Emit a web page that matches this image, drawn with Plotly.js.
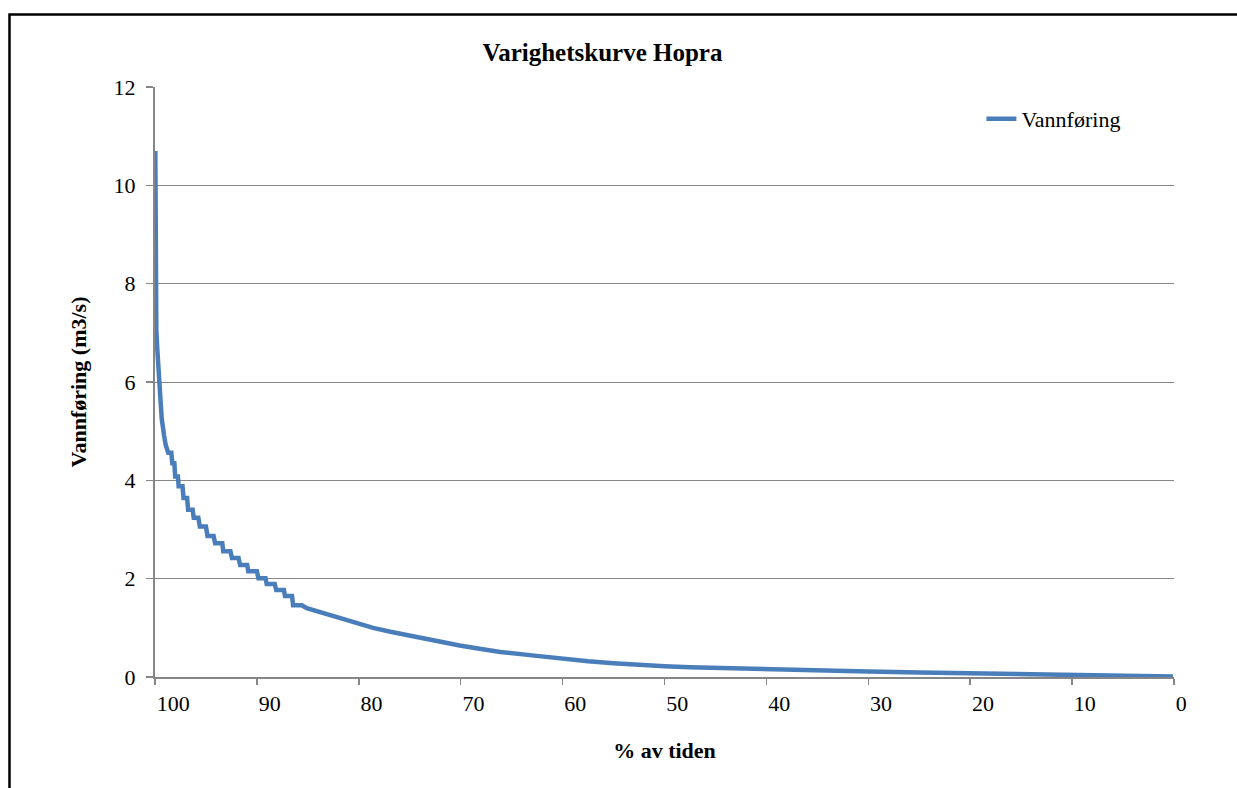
<!DOCTYPE html>
<html>
<head>
<meta charset="utf-8">
<script src="https://cdn.plot.ly/plotly-3.0.1.min.js"></script>
<style>
  html, body { margin: 0; padding: 0; background: #ffffff; }
  #chart { width: 1237px; height: 788px; }
</style>
</head>
<body>
<div id="chart"></div>
<script>
// Duration curve: % of time (x) vs discharge m3/s (y)
const pctTime = [
  99.97, 99.93, 99.87, 99.77, 99.58, 99.34, 99.10, 98.95,
  98.70, 98.40, 98.30, 98.10, 98.02, 97.75, 97.68, 97.30,
  97.20, 96.85, 96.75, 96.30, 96.20, 95.75, 95.60, 95.00,
  94.85, 94.25, 94.10, 93.40, 93.30, 92.60, 92.45, 91.80,
  91.65, 90.95, 90.85, 90.00, 89.85, 89.15, 89.04, 88.25,
  88.10, 87.35, 87.24, 86.55, 86.45, 85.60,
  85.1, 83.5, 81.8, 80.2, 78.6, 76.9, 75.3, 73.7, 72.0, 70.1,
  68.0, 66.1, 63.0, 60.0, 57.5, 55.0, 52.5, 50.0, 47.5, 45.0,
  42.5, 40.0, 36.7, 33.0, 30.0, 25.0, 20.0, 15.0, 10.0, 5.0, 0.1
];
const vannforing = [
  10.70, 7.60, 7.06, 6.65, 5.90, 5.25, 4.90, 4.72,
  4.56, 4.56, 4.35, 4.35, 4.08, 4.08, 3.88, 3.88,
  3.64, 3.64, 3.40, 3.40, 3.24, 3.24, 3.06, 3.06,
  2.87, 2.87, 2.72, 2.72, 2.56, 2.56, 2.42, 2.42,
  2.28, 2.28, 2.15, 2.15, 2.01, 2.01, 1.89, 1.89,
  1.77, 1.77, 1.65, 1.65, 1.46, 1.46,
  1.40, 1.30, 1.20, 1.10, 1.00, 0.92, 0.85, 0.78, 0.72, 0.64,
  0.57, 0.51, 0.44, 0.37, 0.32, 0.28, 0.245, 0.22, 0.20, 0.185,
  0.17, 0.155, 0.13, 0.12, 0.11, 0.09, 0.07, 0.05, 0.035, 0.02, 0.01
];
const xTicks = [100, 90, 80, 70, 60, 50, 40, 30, 20, 10, 0];
const yTicks = [0, 2, 4, 6, 8, 10, 12];
const seriesName = 'Vannføring';
const chartTitle = 'Varighetskurve Hopra';
const xTitle = '% av tiden';
const yTitle = 'Vannføring (m3/s)';

const FONT = '"Times New Roman", Times, "Liberation Serif", "DejaVu Serif", serif';
const AXIS_GRAY = '#868686';

const trace = {
  type: 'scatter',
  mode: 'lines',
  x: pctTime,
  y: vannforing,
  name: seriesName,
  line: { color: '#4A7EBB', width: 4.5 },
  showlegend: true
};

const layout = {
  width: 1237,
  height: 788,
  margin: { l: 155, r: 63, t: 87, b: 111 },
  paper_bgcolor: '#ffffff',
  plot_bgcolor: '#ffffff',
  font: { family: FONT, size: 22, color: '#000000' },
  title: {
    text: chartTitle,
    font: { family: FONT, size: 25, color: '#000000', weight: 'bold' },
    xref: 'container', x: 0.487, xanchor: 'center',
    yref: 'container', y: 0.934, yanchor: 'middle'
  },
  xaxis: {
    range: [100, 0],
    tickmode: 'array',
    tickvals: xTicks,
    ticktext: xTicks.map(String),
    ticks: 'outside',
    ticklen: 6,
    tickwidth: 1.5,
    tickcolor: AXIS_GRAY,
    ticklabelposition: 'outside right',
    ticklabelstandoff: 6,
    tickfont: { family: FONT, size: 22, color: '#000000' },
    showline: true,
    linecolor: AXIS_GRAY,
    linewidth: 2,
    showgrid: false,
    zeroline: false,
    automargin: false,
    title: {
      text: xTitle,
      font: { family: FONT, size: 22, color: '#000000', weight: 'bold' },
      standoff: 27
    }
  },
  yaxis: {
    range: [0, 12],
    tickmode: 'array',
    tickvals: yTicks,
    ticktext: yTicks.map(String),
    ticks: 'outside',
    ticklen: 7,
    tickwidth: 1.5,
    tickcolor: AXIS_GRAY,
    ticklabelstandoff: 6,
    tickfont: { family: FONT, size: 22, color: '#000000' },
    showline: true,
    linecolor: AXIS_GRAY,
    linewidth: 2,
    showgrid: true,
    gridcolor: AXIS_GRAY,
    gridwidth: 1,
    zeroline: false,
    automargin: false,
    title: {
      text: yTitle,
      font: { family: FONT, size: 22, color: '#000000', weight: 'bold' },
      standoff: 21
    }
  },
  legend: {
    x: 0.811, xanchor: 'left',
    y: 0.946, yanchor: 'middle',
    bgcolor: 'rgba(0,0,0,0)',
    borderwidth: 0,
    font: { family: FONT, size: 22, color: '#000000' }
  },
  shapes: [{
    type: 'rect',
    xref: 'paper', yref: 'paper',
    x0: -0.1428, x1: 1.0697,
    y0: -0.2075, y1: 1.1228,
    line: { color: '#000000', width: 2.5 },
    fillcolor: 'rgba(0,0,0,0)',
    layer: 'below'
  }]
};

Plotly.newPlot('chart', [trace], layout, { displayModeBar: false, staticPlot: true });
</script>
</body>
</html>
